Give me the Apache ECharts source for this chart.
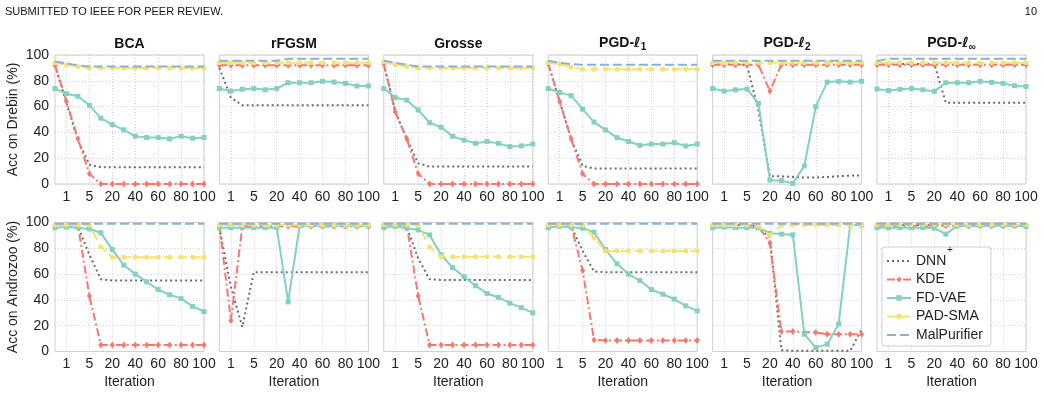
<!DOCTYPE html>
<html>
<head>
<meta charset="utf-8">
<script src="https://cdn.jsdelivr.net/npm/echarts@6/dist/echarts.min.js"></script>
<style>
  html, body { margin: 0; padding: 0; background: #fff; }
  #chart { width: 1044px; height: 393px; }
</style>
</head>
<body>
<div id="chart"></div>
<script>
const iterations = ['0', '1', '3', '5', '10', '20', '30', '40', '50', '60', '70', '80', '90', '100']
const shownTicks = ['1', '5', '20', '40', '60', '80', '100']
const attacks = ['BCA', 'rFGSM', 'Grosse', 'PGD-ℓ1', 'PGD-ℓ2', 'PGD-ℓ∞']
const datasets = ['Drebin', 'Androzoo']
const methods = ['DNN+', 'KDE', 'FD-VAE', 'PAD-SMA', 'MalPurifier']

// Drebin, one list per attack (BCA, rFGSM, Grosse, PGD-l1, PGD-l2, PGD-linf)
const drebinDNN = [
  [92, 63, 34, 15, 13, 13, 13, 13, 13, 13, 13, 13, 13, 13],
  [90, 67, 61, 61, 61, 61, 61, 61, 61, 61, 61, 61, 61, 61],
  [93, 56, 35, 16, 13.5, 13.5, 13.5, 13.5, 13.5, 13.5, 13.5, 13.5, 13.5, 13.5],
  [93, 64, 35, 14, 12, 12, 12, 12, 12, 12, 12, 12, 12, 12],
  [93, 93, 93, 92, 57, 6, 6, 5.5, 5, 5, 5.5, 6, 6.5, 6.5],
  [93, 93, 93, 93, 93, 93, 63, 63, 63, 63, 63, 63, 63, 63],
]
const drebinKDE = [
  [92, 64, 35, 8, 0, 0, 0, 0, 0, 0, 0, 0, 0, 0],
  [92, 92, 92, 92, 92, 92, 92, 92, 92, 92, 92, 92, 92, 92],
  [93, 56, 35, 8, 0, 0, 0, 0, 0, 0, 0, 0, 0, 0],
  [93.5, 64, 35, 8, 0, 0, 0, 0, 0, 0, 0, 0, 0, 0],
  [92.5, 92.5, 92.5, 92.5, 92.5, 72, 92.5, 92.5, 92.5, 92.5, 92.5, 92.5, 92.5, 92.5],
  [92.5, 92.5, 92.5, 92.5, 92.5, 92.5, 92.5, 92.5, 92.5, 92.5, 92.5, 92.5, 92.5, 92.5],
]
const drebinFDVAE = [
  [74, 70, 68, 61, 51, 46, 42, 37, 36, 36, 35, 37, 35.5, 36],
  [74, 72, 73.5, 74, 73, 74, 78.5, 78.5, 78.5, 79.6, 79, 78, 76, 76],
  [74, 67, 65, 57.4, 47.5, 44, 37, 34, 31.5, 33, 31.5, 29, 29.5, 31],
  [74, 71, 68.5, 58, 48, 42, 36, 33, 30, 31, 31, 32, 29.5, 31],
  [74, 72, 73, 73.6, 62.5, 3, 2.6, 0.5, 14, 60, 79, 79.6, 79, 79.6],
  [73.6, 72.4, 73.4, 74, 73, 71.8, 78.5, 78.5, 78.5, 79.6, 78.8, 78, 76.2, 75.5],
]
const drebinPAD = [
  [94, 92.5, 91, 90, 90, 90, 90, 90, 90, 90, 90, 90, 90, 90],
  [94, 94, 94, 94, 94, 94, 94, 94, 94, 94, 94, 94, 94, 94],
  [94.5, 92.5, 91, 90, 90, 90, 90, 90, 90, 90, 90, 90, 90, 90],
  [94, 93, 90.5, 89, 89, 89, 89, 89, 89, 89, 89, 89, 89, 89],
  [94, 94, 94, 94, 94, 94, 94, 94, 94, 94, 94, 94, 94, 94],
  [94, 94, 94, 94, 94, 94, 94, 94, 94, 94, 94, 94, 94, 94],
]
const drebinMal = [
  [95, 93.5, 92, 91, 91, 91, 91, 91, 91, 91, 91, 91, 91, 91],
  [95.5, 95.5, 95.5, 95.5, 95.5, 95.5, 97, 97, 97, 97, 97, 97, 97, 97],
  [95.5, 94, 92.5, 91, 91, 91, 91, 91, 91, 91, 91, 91, 91, 91],
  [95.5, 94, 93, 92.5, 92.5, 92.5, 92.5, 92.5, 92.5, 92.5, 92.5, 92.5, 92.5, 92.5],
  [95.5, 95.5, 95.5, 95.5, 95.5, 95.5, 95.5, 95.5, 95.5, 95.5, 95.5, 95.5, 95.5, 95.5],
  [95.3, 97, 97, 97, 97, 97, 97, 97, 97, 97, 97, 97, 97, 97],
]

// Androzoo
const androDNN = [
  [98, 98, 97, 75, 56, 55, 55, 55, 55, 55, 55, 55, 55, 55],
  [96, 50, 19, 61.5, 61.5, 61.5, 61.5, 61.5, 61.5, 61.5, 61.5, 61.5, 61.5, 61.5],
  [98, 98, 97, 72, 56, 55.5, 55.5, 55.5, 55.5, 55.5, 55.5, 55.5, 55.5, 55.5],
  [98, 98, 97, 78, 62, 61.5, 61.5, 61.5, 61.5, 61.5, 61.5, 61.5, 61.5, 61.5],
  [98, 98, 98, 98, 97, 88, 1, 0.5, 0.5, 0.5, 0.5, 0.5, 0.5, 17],
  [98, 98, 98, 98, 98, 98, 98, 98, 98, 98, 98, 98, 98, 98],
]
const androKDE = [
  [98, 98, 98, 43, 5, 5, 5, 5, 5, 5, 5, 5, 5, 5],
  [98, 24, 97, 97, 97, 97, 97, 97, 97, 97, 97, 97, 97, 97],
  [98, 98, 98, 43, 5, 5, 5, 5, 5, 5, 5, 5, 5, 5],
  [98, 98, 98, 62.8, 9, 8.5, 8.5, 8.5, 8.5, 8.5, 8.5, 8.5, 8.5, 8.5],
  [98, 98, 98, 98, 97, 84, 15.5, 15.5, 15, 14.7, 13.4, 13.4, 13.4, 13.4],
  [97.5, 97.5, 97.5, 97.5, 97.5, 97.5, 97.5, 97.5, 97.5, 97.5, 97.5, 97.5, 97.5, 97.5],
]
const androFDVAE = [
  [96, 96.5, 96, 95, 92, 79, 67, 60, 54, 48, 44, 41, 35, 31],
  [96, 96, 96, 96, 96, 96, 38.5, 97.5, 97.5, 97.5, 97.5, 97.5, 97.5, 97.5],
  [96, 97, 95.6, 94.3, 90.4, 75, 65, 58, 51, 45, 42, 37.5, 34, 30],
  [96, 97, 96.4, 95.6, 92.5, 79, 68, 60, 55, 48, 44.4, 40.6, 35.4, 31.5],
  [96, 96.4, 96, 96, 96, 91.7, 91, 90.4, 13.4, 3, 5.7, 21.4, 98, 98],
  [96, 96, 96, 96, 96, 95.6, 91, 97.4, 97.5, 97.5, 97.5, 97.5, 97.5, 97],
]
const androPAD = [
  [98, 98, 98, 98, 81, 73, 73, 73, 73, 73, 73, 73, 73, 73],
  [98, 98, 98, 98, 98, 98, 98, 98, 98, 98, 98, 98, 98, 98],
  [98.5, 98.5, 98.5, 98, 81, 73.5, 73.5, 73.5, 73.5, 73.5, 73.5, 73.5, 73.5, 73.5],
  [98, 98, 98, 98, 88, 78, 78, 78, 78, 78, 78, 78, 78, 78],
  [98, 98, 98, 98, 97, 90, 98, 98, 98, 98, 98, 98, 98, 98],
  [98.5, 98.5, 98.5, 98.5, 98.5, 98.5, 98.5, 98.5, 98.5, 98.5, 98.5, 98.5, 98.5, 98.5],
]
const androMal = [
  [99, 99, 99, 99, 99, 99, 99, 99, 99, 99, 99, 99, 99, 99],
  [99, 99, 99, 99, 99, 99, 99, 99, 99, 99, 99, 99, 99, 99],
  [99, 99, 99, 99, 99, 99, 99, 99, 99, 99, 99, 99, 99, 99],
  [99, 99, 99, 99, 99, 99, 99, 99, 99, 99, 99, 99, 99, 99],
  [99, 99, 99, 99, 99, 99, 99, 99, 99, 99, 99, 99, 99, 99],
  [99, 99, 99, 99, 99, 99, 99, 99, 99, 99, 99, 99, 99, 99],
]

const valuesByRow = [
  [drebinDNN, drebinKDE, drebinFDVAE, drebinPAD, drebinMal],
  [androDNN, androKDE, androFDVAE, androPAD, androMal],
]

const font = 'Liberation Sans, Arial, sans-serif'
const textColor = '#222'
const thinDiamond = 'path://M0,-10L6,0L0,10L-6,0Z'
const styles = [
  { color: '#6b6b6b', type: [2, 3], symbol: 'none', symbolSize: 0 },
  { color: '#f7796d', type: [8, 3, 2, 3], symbol: thinDiamond, symbolSize: [5, 7] },
  { color: '#84d0c1', type: 'solid', symbol: 'rect', symbolSize: 5 },
  { color: '#f7e171', type: [9, 5], symbol: 'circle', symbolSize: 5 },
  { color: '#86b2d8', type: [9, 4], symbol: 'none', symbolSize: 0 },
]

const showTick = (i, v) => shownTicks.includes(String(v))
const colLeft = c => 55 + c * 164.4
const rowTop = [55, 222.5]

function titleText(name) {
  const m = name.match(/^(.*)ℓ(.)$/)
  if (!m) return '{b|' + name + '}'
  return '{b|' + m[1] + '}{l|ℓ}{s|' + m[2] + '}'
}

const grids = []
const xAxes = []
const yAxes = []
const series = []
const titles = [
  { text: 'SUBMITTED TO IEEE FOR PEER REVIEW.', left: 5, top: 6, padding: 0,
    textStyle: { fontSize: 11, fontWeight: 'normal', color: '#111', fontFamily: font } },
  { text: '10', right: 7, top: 6, padding: 0,
    textStyle: { fontSize: 11, fontWeight: 'normal', color: '#111', fontFamily: font } },
]

attacks.forEach((a, c) => {
  const sub = /ℓ.$/.test(a)
  titles.push({
    text: titleText(a),
    left: colLeft(c) + 74.5,
    top: sub ? 35 : 36,
    padding: 0,
    textAlign: 'center',
    textStyle: {
      rich: {
        b: { fontSize: 14, fontWeight: 'bold', color: '#111', fontFamily: font, lineHeight: 16 },
        l: { fontSize: 14, fontStyle: 'italic', fontWeight: 'bold', color: '#111', fontFamily: 'DejaVu Sans, sans-serif', lineHeight: 16 },
        s: { fontSize: 10, color: '#111', fontFamily: font, lineHeight: 10, padding: [8, 0, 0, 0] },
      },
    },
  })
})

for (let r = 0; r < 2; r++) {
  for (let c = 0; c < 6; c++) {
    const gi = r * 6 + c
    grids.push({
      left: colLeft(c), top: rowTop[r], width: 149, height: 129,
      show: true, borderColor: '#cfcfcf', borderWidth: 1, backgroundColor: '#fff',
    })
    xAxes.push({
      gridIndex: gi,
      type: 'category',
      data: iterations,
      boundaryGap: false,
      axisLine: { show: false },
      axisTick: { show: false },
      axisLabel: { interval: showTick, margin: 6, fontSize: 14, color: textColor, fontFamily: font },
      splitLine: { show: true, interval: showTick, lineStyle: { type: [1, 2], color: '#d2d2d2' } },
      name: r === 1 ? 'Iteration' : '',
      nameLocation: 'middle',
      nameGap: 24,
      nameTextStyle: { fontSize: 14, color: textColor, fontFamily: font },
    })
    yAxes.push({
      gridIndex: gi,
      type: 'value',
      min: 0, max: 100, interval: 20,
      axisLine: { show: false },
      axisTick: { show: false },
      axisLabel: { show: c === 0, margin: 6, fontSize: 14, color: textColor, fontFamily: font },
      splitLine: { lineStyle: { type: [1, 2], color: '#d2d2d2' } },
      name: c === 0 ? 'Acc on ' + datasets[r] + ' (%)' : '',
      nameLocation: 'middle',
      nameGap: 35,
      nameTextStyle: { fontSize: 14, color: textColor, fontFamily: font },
    })
    methods.forEach((m, k) => {
      const s = styles[k]
      series.push({
        name: m,
        type: 'line',
        xAxisIndex: gi,
        yAxisIndex: gi,
        data: valuesByRow[r][k][c],
        symbol: s.symbol,
        symbolSize: s.symbolSize,
        showSymbol: s.symbol !== 'none',
        color: s.color,
        itemStyle: { color: s.color },
        lineStyle: { color: s.color, width: 2, type: s.type },
        emphasis: { disabled: true },
        z: 2 + k,
      })
    })
  }
}

// legend entries: lines without markers hide the default circle
const legendData = methods.map((m, k) =>
  styles[k].symbol === 'none' ? { name: m, itemStyle: { opacity: 0 } } : { name: m })

const chart = echarts.init(document.getElementById('chart'), null, { renderer: 'canvas' })
chart.setOption({
  animation: false,
  backgroundColor: '#fff',
  title: titles,
  grid: grids,
  xAxis: xAxes,
  yAxis: yAxes,
  series: series,
  legend: {
    data: legendData,
    orient: 'vertical',
    left: 882,
    top: 247,
    padding: [7, 8, 4, 4],
    itemGap: 4.5,
    itemWidth: 24,
    itemHeight: 7,
    backgroundColor: '#fff',
    borderColor: '#cfcfcf',
    borderWidth: 1,
    borderRadius: 3,
    formatter: n => (n === 'DNN+' ? 'DNN' : n),
    textStyle: { fontSize: 14, lineHeight: 14, color: textColor, fontFamily: font },
  },
  graphic: [
    { type: 'text', left: 947, top: 245, z: 100,
      style: { text: '+', fontSize: 10, fill: textColor, fontFamily: font } },
  ],
})
window.addEventListener('resize', () => chart.resize())
</script>
</body>
</html>
